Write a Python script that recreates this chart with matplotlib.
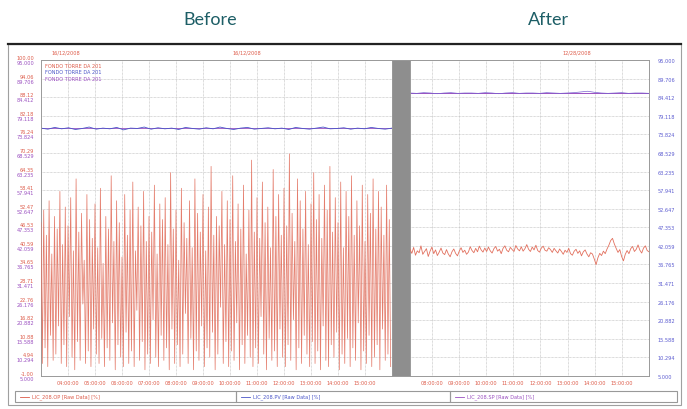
import matplotlib
matplotlib.use("Agg")
import matplotlib.pyplot as plt
import numpy as np
from matplotlib.patches import Rectangle
from matplotlib.lines import Line2D

W, H = 687, 410

def fx(x):
    return x / W

def fy(y):
    return 1 - y / H

# ---------------- data ----------------
# before: controller output LIC_208.OP, every 3 min from 03:00
op_before = [
    48, 3, 52, 8, 44, 2, 55, 12, 38, 4, 50, 6, 46, 15, 58, 3, 41, 9, 53, 2,
    47, 18, 56, 5, 39, 1, 62, 10, 45, 4, 51, 22, 36, 3, 57, 7, 49, 2, 43, 14,
    54, 6, 40, 3, 59, 11, 35, 2, 50, 8, 46, 4, 63, 16, 42, 1, 55, 9, 48, 5,
    37, 2, 57, 13, 44, 3, 52, 7, 61, 2, 39, 20, 53, 4, 47, 10, 58, 1, 42, 6,
    50, 3, 45, 17, 60, 5, 38, 2, 54, 12, 49, 4, 56, 8, 41, 1, 64, 14, 46, 3,
    52, 9, 36, 2, 59, 6, 48, 19, 43, 3, 55, 11, 40, 1, 62, 7, 51, 4, 45, 15,
    57, 2, 39, 8, 53, 5, 66, 13, 44, 1, 50, 6, 47, 21, 58, 3, 41, 10, 55, 2,
    49, 7, 63, 4, 42, 16, 54, 1, 46, 9, 60, 3, 38, 12, 52, 5, 68, 2, 45, 8,
    56, 3, 43, 18, 61, 6, 48, 1, 53, 11, 40, 4, 65, 7, 50, 2, 57, 14, 44, 5,
    59, 2, 47, 9, 70, 4, 51, 17, 42, 1, 62, 8, 55, 3, 46, 12, 58, 6, 41, 2,
    54, 10, 64, 3, 49, 7, 57, 1, 43, 15, 60, 4, 52, 2, 66, 9, 45, 5, 56, 13,
    48, 1, 61, 6, 40, 3, 58, 11, 50, 2, 63, 8, 44, 4, 55, 16, 47, 1, 60, 7,
    42, 3, 57, 12, 51, 2, 62, 5, 46, 9, 58, 1, 53, 14, 44, 4, 60, 6, 49, 2,
]
# before: process value LIC_208.PV, every 15 min
pv_before = [
    75.6, 75.3, 75.8, 75.4, 75.7, 75.2, 75.5, 75.9, 75.3, 75.6, 75.4, 75.8, 75.1,
    75.6, 75.5, 75.9, 75.3, 75.7, 75.4, 75.6, 75.2, 75.8, 75.5, 75.3, 75.7, 75.4,
    75.9, 75.5, 75.2, 75.6, 75.8, 75.3, 75.5, 75.7, 75.4, 75.6, 75.2, 75.8, 75.5,
    75.3, 75.6, 75.9, 75.4, 75.5, 75.7, 75.3, 75.6, 75.4, 75.8, 75.5, 75.3, 75.6,
]
sp_before = [75.5, 75.5]

# after: every 4 min from 07:12
op_after = [
    39.5, 38.2, 40.1, 37.6, 39.0, 38.4, 40.6, 37.9, 38.8, 39.7, 37.2, 38.9, 40.2, 38.1, 39.3, 37.5, 38.6, 39.9, 38.3, 37.8,
    39.4, 38.0, 37.1, 38.7, 39.6, 38.2, 37.4, 38.9, 40.0, 38.5, 39.2, 37.9, 38.6, 40.3, 39.1, 38.4, 39.8, 38.7, 40.5, 39.3,
    38.6, 39.9, 38.8, 40.2, 39.0, 38.3, 39.7, 40.4, 38.9, 39.5, 38.1, 39.8, 40.6, 39.2, 38.7, 40.1, 39.4, 38.8, 40.7, 39.6,
    39.0, 40.3, 38.9, 39.7, 41.0, 39.5, 38.8, 40.2, 39.3, 40.8, 39.1, 38.6, 39.9, 40.5, 39.2, 38.9, 40.0, 39.4, 38.5, 39.8,
    39.0, 38.3, 39.6, 38.8, 37.9, 39.2, 38.5, 39.8, 38.1, 37.6, 38.9, 39.5, 38.2, 39.0, 37.4, 38.7, 39.3, 38.0, 37.1, 38.4,
    38.0, 36.4, 34.6, 36.8, 38.2, 37.5, 38.9, 38.1, 39.6, 40.8, 42.3, 43.0, 41.2, 39.8, 38.5, 39.4, 37.2, 35.8, 37.9, 39.1,
    38.1, 39.7, 40.4, 38.8, 39.5, 40.9, 39.2, 38.3, 39.9, 40.6, 39.1, 38.7,
]
pv_after = [
    85.6, 85.5, 85.7, 85.6, 85.4, 85.6, 85.7, 85.5, 85.6, 85.6, 85.5, 85.7,
    85.6, 85.4, 85.6, 85.7, 85.5, 85.6, 85.6, 85.5, 85.7, 85.6, 85.5, 85.6,
    85.7, 85.9, 86.1, 85.8, 85.6, 85.5, 85.6, 85.7, 85.5, 85.6, 85.6, 85.5,
]
sp_after = [85.6, 85.6]

pv_ticks = [5.000, 10.294, 15.588, 20.882, 26.176, 31.471, 36.765, 42.059, 47.353,
            52.647, 57.941, 63.235, 68.529, 73.824, 79.118, 84.412, 89.706, 95.000]
pv_labels = ["5.000", "10.294", "15.588", "20.882", "26.176", "31.471", "36.765", "42.059", "47.353",
             "52.647", "57.941", "63.235", "68.529", "73.824", "79.118", "84.412", "89.706", "95.000"]
op_ticks = [-1.00, 4.94, 10.88, 16.82, 22.76, 28.71, 34.65, 40.59, 46.53,
            52.47, 58.41, 64.35, 70.29, 76.24, 82.18, 88.12, 94.06, 100.00]
op_labels = ["-1.00", "4.94", "10.88", "16.82", "22.76", "28.71", "34.65", "40.59", "46.53",
             "52.47", "58.41", "64.35", "70.29", "76.24", "82.18", "88.12", "94.06", "100.00"]

hours_before = [4, 5, 6, 7, 8, 9, 10, 11, 12, 13, 14, 15]
hours_after = [8, 9, 10, 11, 12, 13, 14, 15]

RED = "#dd5a48"
OPLINE = "#e2705e"
BLUE = "#4a55c8"
PURPLE = "#9a4fc0"
GRID = "#b8b8b8"
FS = 3.6

fig = plt.figure(figsize=(W / 100, H / 100), dpi=100)

# titles
fig.text(fx(210), fy(20), "Before", ha="center", va="center", fontsize=13,
         color="#1d5e66", family="Lato")
fig.text(fx(548), fy(20), "After", ha="center", va="center", fontsize=13,
         color="#1d5e66", family="Lato")

# outer frame
fig.add_artist(Rectangle((fx(8), fy(406)), fx(681) - fx(8), fy(45) - fy(406),
                         transform=fig.transFigure, fill=False, ec="#a0a0a0", lw=0.8))
fig.add_artist(Line2D([fx(8), fx(681)], [fy(45), fy(45)], transform=fig.transFigure,
                      color="#222222", lw=1.6))


def setup(ax, hours):
    ax.set_ylim(5, 95)
    ax.set_yticks(pv_ticks)
    ax.set_xticks(hours)
    ax.set_xticklabels(["%02d:00:00" % h for h in hours], fontsize=FS, color=RED)
    ax.tick_params(length=0, pad=3)
    ax.grid(True, color=GRID, linestyle=(0, (1, 1)), lw=0.5)
    for s in ax.spines.values():
        s.set_color("#999999")
        s.set_linewidth(0.7)


top, bot = 61, 377

# ----- before panel -----
axl = fig.add_axes([fx(41), fy(bot), fx(392) - fx(41), fy(top) - fy(bot)])
setup(axl, hours_before)
axl.set_xlim(3, 16)
axl2 = axl.twinx()
axl.yaxis.tick_left()
axl.set_yticklabels(pv_labels, fontsize=FS, color=PURPLE)
for t in axl.get_yticklabels():
    t.set_va("top")
axl.tick_params(axis="y", pad=5)

axl2.set_ylim(-1, 100)
axl2.yaxis.tick_left()
axl2.set_yticks(op_ticks)
axl2.set_yticklabels(op_labels, fontsize=FS, color=RED)
for t in axl2.get_yticklabels():
    t.set_va("bottom")
axl2.tick_params(length=0, pad=5)
for s in axl2.spines.values():
    s.set_visible(False)

t_op = np.linspace(3, 16, len(op_before), endpoint=False)
axl2.plot(t_op, op_before, color=OPLINE, lw=0.55, alpha=0.9)
axl.plot(np.linspace(3, 16, len(sp_before)), sp_before, color=PURPLE, lw=0.6)
axl.plot(np.linspace(3, 16, len(pv_before)), pv_before, color=BLUE, lw=0.6)

for i, (txt, c) in enumerate([("FONDO TORRE DA 201", RED),
                               ("FONDO TORRE DA 201", BLUE),
                               ("FONDO TORRE DA 201", PURPLE)]):
    fig.text(fx(45), fy(66 + 7 * i), txt, fontsize=FS, color=c, va="center")

# ----- gap -----
axg = fig.add_axes([fx(392), fy(bot), fx(410) - fx(392), fy(top) - fy(bot)])
axg.set_facecolor("#8e8e8e")
axg.set_xticks([])
axg.set_yticks([])
for s in axg.spines.values():
    s.set_color("#999999")
    s.set_linewidth(0.7)

# ----- after panel -----
axr = fig.add_axes([fx(410), fy(bot), fx(649) - fx(410), fy(top) - fy(bot)])
setup(axr, hours_after)
axr.set_xlim(7.2, 16)
axr2 = axr.twinx()
axr.yaxis.tick_right()
axr.set_yticklabels(pv_labels, fontsize=FS, color="#5b5bd0")
axr.tick_params(axis="y", pad=6)

axr2.set_ylim(-1, 100)
axr2.set_yticks([])
for s in axr2.spines.values():
    s.set_visible(False)
axr2.plot(np.linspace(7.2, 16, len(op_after)), op_after, color=OPLINE, lw=0.6)
axr.plot(np.linspace(7.2, 16, len(sp_after)), sp_after, color=PURPLE, lw=0.7)
axr.plot(np.linspace(7.2, 16, len(pv_after)), pv_after, color="#7a62d0", lw=0.5)

# dates
fig.text(fx(66), fy(53), "16/12/2008", fontsize=FS, color=RED, ha="center", va="center")
fig.text(fx(247), fy(53), "16/12/2008", fontsize=FS, color=RED, ha="center", va="center")
fig.text(fx(577), fy(53), "12/28/2008", fontsize=FS, color=RED, ha="center", va="center")

# legend boxes at the bottom
legend = [("LIC_208.OP [Raw Data] [%]", RED, 15, 236),
          ("LIC_208.PV [Raw Data] [%]", BLUE, 236, 450),
          ("LIC_208.SP [Raw Data] [%]", PURPLE, 450, 677)]
for name, c, x0, x1 in legend:
    fig.add_artist(Rectangle((fx(x0), fy(403)), fx(x1) - fx(x0), fy(392) - fy(403),
                             transform=fig.transFigure, fill=False, ec="#999999", lw=0.8))
    fig.add_artist(Line2D([fx(x0 + 5), fx(x0 + 14)], [fy(397.5), fy(397.5)],
                          transform=fig.transFigure, color=c, lw=0.6))
    fig.text(fx(x0 + 17), fy(397.5), name, fontsize=FS, color=c, va="center")

fig.savefig("out.png", dpi=100)
